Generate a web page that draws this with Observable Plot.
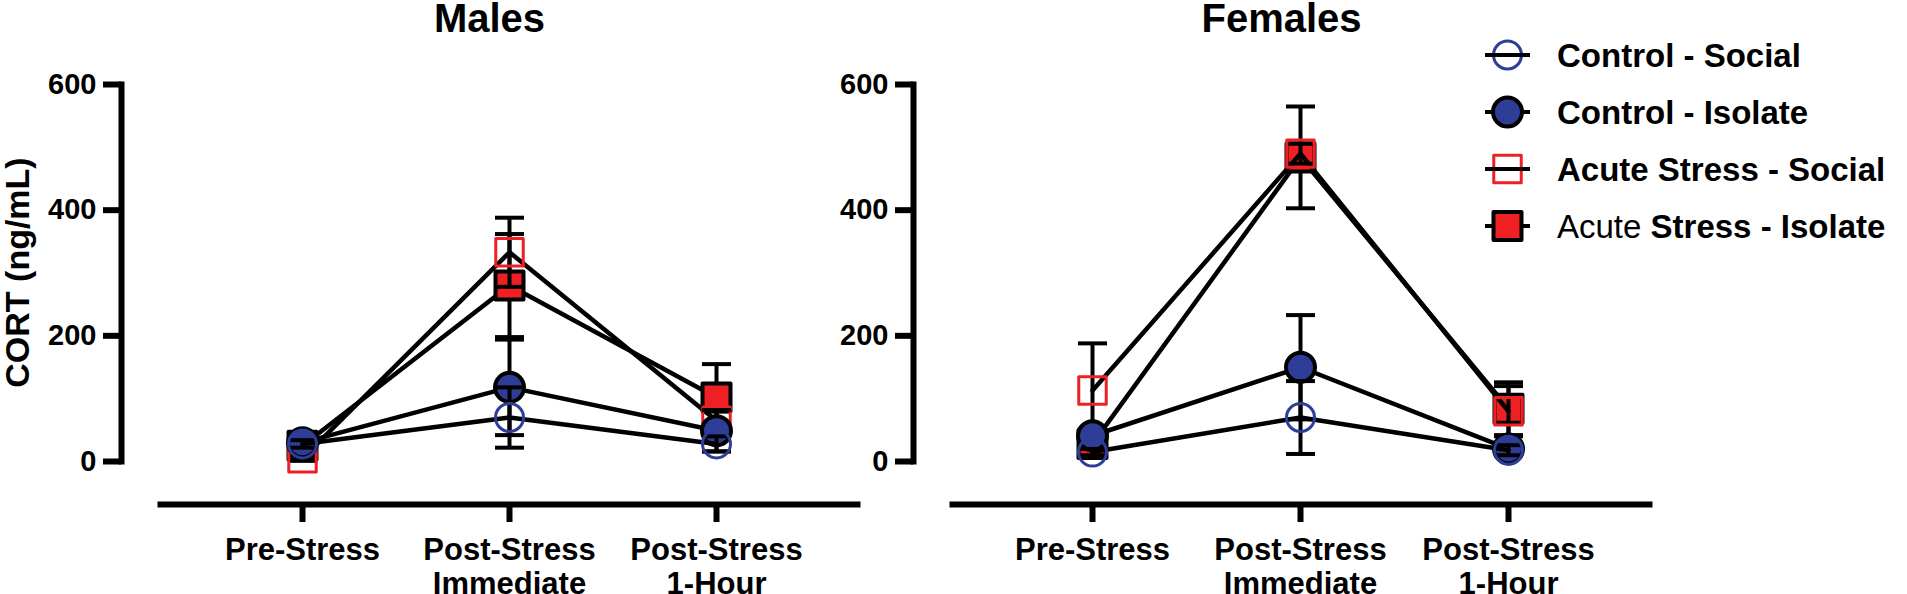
<!DOCTYPE html>
<html><head><meta charset="utf-8">
<script src="https://cdn.jsdelivr.net/npm/d3@7"></script>
<script src="https://cdn.jsdelivr.net/npm/@observablehq/plot@0.6"></script>
<style>
body{margin:0;background:#fff;}
#chart{position:relative;width:1907px;height:594px;font-family:"Liberation Sans",Arial,Helvetica,sans-serif;}
#chart svg{position:absolute;top:0;overflow:visible;}
</style></head><body><div id="chart"></div>
<script>
// ---- data ----
const timepoints = ["Pre-Stress", "Post-Stress Immediate", "Post-Stress 1-Hour"];
const tickLabels = ["Pre-Stress", "Post-Stress\nImmediate", "Post-Stress\n1-Hour"];
const yTicks = [0, 200, 400, 600];
const groups = ["Control - Social", "Control - Isolate", "Acute Stress - Social", "Acute Stress - Isolate"];

// Males: mean and SEM per timepoint
const maleControlSocial = [28, 70, 28];
const maleControlSocialSem = [6, 48, 12];
const maleControlIsolate = [30, 118, 49];
const maleControlIsolateSem = [8, 76, 33];
const maleAcuteSocial = [5, 333, 65];
const maleAcuteSocialSem = [4, 55, 15];
const maleAcuteIsolate = [25, 280, 102];
const maleAcuteIsolateSem = [8, 82, 53];

// Females
const femaleControlSocial = [15, 70, 18];
const femaleControlSocialSem = [5, 58, 8];
const femaleControlIsolate = [41, 150, 20];
const femaleControlIsolateSem = [10, 83, 10];
const femaleAcuteSocial = [113, 490, 80];
const femaleAcuteSocialSem = [75, 16, 40];
const femaleAcuteIsolate = [28, 484, 84];
const femaleAcuteIsolateSem = [10, 81, 42];

// ---- styles ----
const BLUE = "#2E3D98", RED = "#EE2024";
const groupSymbol = ["circle", "circle", "square", "square"];
const groupFill = ["none", BLUE, "none", RED];
const groupStroke = [BLUE, "black", RED, "black"];
const groupStrokeWidth = [3, 4, 3, 4];
const groupR = [14, 14.5, 15.5, 15.8];
const drawOrder = [3, 2, 1, 0];
const FONT = '"Liberation Sans", Arial, Helvetica, sans-serif';

function rows(means, sems, g) {
  return timepoints.map((t, i) => ({t, g, mean: means[i], lo: means[i] - sems[i], hi: means[i] + sems[i]}));
}
const maleData = [
  rows(maleControlSocial, maleControlSocialSem, 0),
  rows(maleControlIsolate, maleControlIsolateSem, 1),
  rows(maleAcuteSocial, maleAcuteSocialSem, 2),
  rows(maleAcuteIsolate, maleAcuteIsolateSem, 3)
];
const femaleData = [
  rows(femaleControlSocial, femaleControlSocialSem, 0),
  rows(femaleControlIsolate, femaleControlIsolateSem, 1),
  rows(femaleAcuteSocial, femaleAcuteSocialSem, 2),
  rows(femaleAcuteIsolate, femaleAcuteIsolateSem, 3)
];

const capSymbol = {draw(ctx, size) { const w = Math.sqrt(size / Math.PI); ctx.moveTo(-w, 0); ctx.lineTo(w, 0); }};

function seriesMarks(data) {
  const marks = [];
  for (const g of drawOrder) {
    const d = data[g];
    marks.push(Plot.line(d, {x: "t", y: "mean", stroke: "black", strokeWidth: 4.5}));
    marks.push(Plot.ruleX(d, {x: "t", y1: "lo", y2: "hi", stroke: "black", strokeWidth: 4}));
    marks.push(Plot.dot(d, {x: "t", y: "hi", symbol: capSymbol, r: 14.5, fill: "none", stroke: "black", strokeWidth: 4}));
    marks.push(Plot.dot(d, {x: "t", y: "lo", symbol: capSymbol, r: 14.5, fill: "none", stroke: "black", strokeWidth: 4}));
    marks.push(Plot.dot(d, {x: "t", y: "mean", symbol: groupSymbol[g], r: groupR[g], fill: groupFill[g],
      stroke: groupStroke[g], strokeWidth: groupStrokeWidth[g], strokeLinejoin: "round"}));
  }
  return marks;
}

function panel({title, data, width, marginLeft, marginRight, xRange, yLabel}) {
  const marks = [
    Plot.frame({anchor: "left", insetBottom: 43, strokeWidth: 6}),
    Plot.frame({anchor: "bottom", insetLeft: 39, strokeWidth: 6}),
    Plot.axisY({ticks: yTicks, tickSize: 18, tickPadding: 7, strokeWidth: 6, fontSize: 29, fontWeight: "bold", label: null}),
    Plot.axisX({tickSize: 18, tickPadding: 13, strokeWidth: 6, fontSize: 31, fontWeight: "bold", label: null,
      lineHeight: 1.1, tickFormat: (d) => tickLabels[timepoints.indexOf(d)]}),
    Plot.text([title], {frameAnchor: "top", lineAnchor: "top", dy: -81, fontSize: 40, fontWeight: "bold"}),
    ...seriesMarks(data)
  ];
  if (yLabel) marks.push(Plot.text([yLabel], {frameAnchor: "left", textAnchor: "middle", lineAnchor: "middle",
    rotate: -90, dx: -103, dy: -22, fontSize: 34, fontWeight: "bold"}));
  return Plot.plot({
    width, height: 594, marginLeft, marginRight, marginTop: 84, marginBottom: 90,
    x: {type: "point", domain: timepoints, range: xRange, padding: 0},
    y: {domain: [0, 600], range: [461, 84]},
    style: {fontFamily: FONT, background: "transparent", color: "black", overflow: "visible"},
    marks
  });
}

const chart = document.getElementById("chart");
const left = panel({title: "Males", data: maleData, width: 870, marginLeft: 121, marginRight: 13, xRange: [301, 716], yLabel: "CORT (ng/mL)"});
left.style.left = "0px";
chart.appendChild(left);
const right = panel({title: "Females", data: femaleData, width: 1077, marginLeft: 83, marginRight: 258, xRange: [262, 678]});
right.style.left = "830px";
chart.appendChild(right);

// ---- legend ----
const lg = d3.select(chart).append("svg").attr("width", 460).attr("height", 260).style("left", "1447px");
groups.forEach((name, i) => {
  const cy = 55 + i * 57;
  const row = lg.append("g").attr("transform", `translate(0,${cy})`);
  row.append("line").attr("x1", 38).attr("x2", 83).attr("stroke", "black").attr("stroke-width", 4);
  const sym = d3.symbol().type(groupSymbol[i] === "circle" ? d3.symbolCircle : d3.symbolSquare).size(Math.PI * groupR[i] * groupR[i]);
  row.append("path").attr("d", sym()).attr("transform", "translate(60.5,0)")
    .attr("fill", groupFill[i]).attr("stroke", groupStroke[i]).attr("stroke-width", groupStrokeWidth[i]).attr("stroke-linejoin", "round");
  if (groupFill[i] === "none") row.append("line").attr("x1", 38).attr("x2", 83).attr("stroke", "black").attr("stroke-width", 4);
  const txt = row.append("text").attr("x", 110).attr("y", 12).attr("font-size", 33).attr("font-family", FONT).attr("font-weight", "bold");
  if (i === 3) {
    txt.append("tspan").attr("font-weight", "normal").text("Acute");
    txt.append("tspan").text(" Stress - Isolate");
  } else txt.text(name);
});
</script></body></html>
